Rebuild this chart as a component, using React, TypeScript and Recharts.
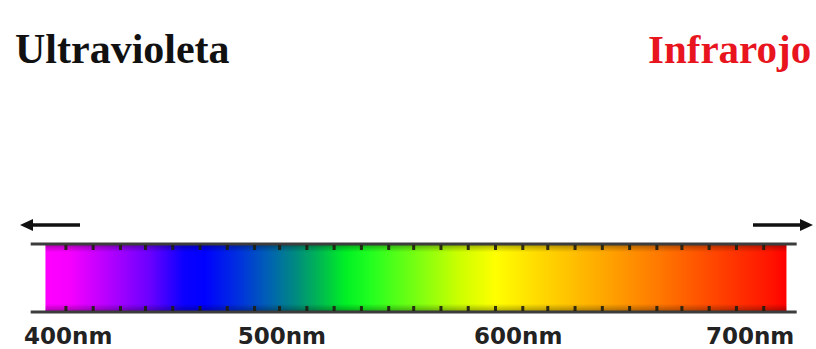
import { ComposedChart, XAxis, YAxis, ReferenceArea, ReferenceLine, Scatter, Customized } from "recharts";

// wavelength stops of the spectrum band (nm -> colour)
const stopNm = [390, 401, 418, 436, 451, 460, 476, 489, 500, 511, 522, 533, 555, 572, 588, 608, 634, 660, 687, 709, 716];
const stopColors = [
  "#ff00ff", "#f500ff", "#b400ff", "#6a00ff", "#0a00ff", "#0000ff", "#0034dc", "#0064b0", "#008a80", "#00ba50",
  "#00f025", "#22ff20", "#80ff10", "#ccff00", "#ffff00", "#ffd800", "#ffaa00", "#ff7800", "#ff4000", "#ff1400", "#ff0000",
];

// minor tick marks along the band (nm)
const minorTicks = [399, 411, 423, 434, 446, 458, 470, 482, 493, 505, 517, 529, 541, 552, 564, 576, 588, 600, 611, 623, 635, 647, 659, 670, 682, 694, 706];

// axis labels
const labelNm = [400, 494, 598, 700];
const labelText = ["400nm", "500nm", "600nm", "700nm"];

const bandStart = 390;
const bandEnd = 716;

const tickMarks = [
  ...minorTicks.map((x) => ({ x, y: 1, side: "top" })),
  ...minorTicks.map((x) => ({ x, y: 0, side: "bottom" })),
];

function TickMark(props: any) {
  const { cx, cy, payload } = props;
  const y = payload.side === "top" ? cy + 1 : cy - 6;
  return <rect x={cx - 1.5} y={y} width={3} height={5} fill="#1e1e10" opacity={0.9} />;
}

function AxisTick(props: any) {
  const { x, y, payload } = props;
  const i = labelNm.indexOf(payload.value);
  return (
    <text x={x} y={y + 30} textAnchor="middle" fill="#222" fontFamily="'DejaVu Sans', Verdana, sans-serif" fontWeight="bold" fontSize={23}>
      {labelText[i]}
    </text>
  );
}

function Decorations() {
  return (
    <g>
      <text x={15} y={63} fontFamily="'Liberation Serif', 'Times New Roman', serif" fontWeight="bold" fontSize={42} fill="#111">
        Ultravioleta
      </text>
      <text x={648} y={63} fontFamily="'Liberation Serif', 'Times New Roman', serif" fontWeight="bold" fontSize={41} fill="#e8141e">
        Infrarojo
      </text>
      {/* left arrow */}
      <line x1={30} y1={225} x2={80} y2={225} stroke="#111" strokeWidth={3.5} />
      <path d="M20,225 L33,219 L33,231 Z" fill="#111" />
      {/* right arrow */}
      <line x1={753} y1={225} x2={803} y2={225} stroke="#111" strokeWidth={3.5} />
      <path d="M813,225 L800,219 L800,231 Z" fill="#111" />
    </g>
  );
}

export default function App() {
  const span = bandEnd - bandStart;
  return (
    <div style={{ position: "absolute", left: 0, top: 0, background: "#fff" }}>
      <ComposedChart width={816} height={349} margin={{ top: 244, right: 0, bottom: 7, left: 0 }}>
        <defs>
          <linearGradient id="spectrum" x1="0" y1="0" x2="1" y2="0">
            {stopNm.map((nm, i) => (
              <stop key={i} offset={`${((nm - bandStart) / span) * 100}%`} stopColor={stopColors[i]} />
            ))}
          </linearGradient>
          <linearGradient id="shade" x1="0" y1="0" x2="0" y2="1">
            <stop offset="0%" stopColor="#000" stopOpacity={0.35} />
            <stop offset="12%" stopColor="#000" stopOpacity={0} />
            <stop offset="88%" stopColor="#000" stopOpacity={0} />
            <stop offset="100%" stopColor="#000" stopOpacity={0.35} />
          </linearGradient>
        </defs>
        <XAxis
          dataKey="x"
          type="number"
          domain={[370, 729]}
          allowDataOverflow
          ticks={labelNm}
          tick={<AxisTick />}
          axisLine={false}
          tickLine={false}
          tickSize={0}
          height={30}
        />
        <YAxis type="number" domain={[0, 1]} hide />
        <ReferenceArea x1={bandStart} x2={bandEnd} y1={0} y2={1} fill="url(#spectrum)" fillOpacity={1} stroke="none" />
        <ReferenceArea x1={bandStart} x2={bandEnd} y1={0} y2={1} fill="url(#shade)" fillOpacity={1} stroke="none" />
        <ReferenceLine segment={[{ x: 383.5, y: 1 }, { x: 720.5, y: 1 }]} stroke="#3c3c3c" strokeWidth={3} ifOverflow="visible" />
        <ReferenceLine segment={[{ x: 383.5, y: 0 }, { x: 720.5, y: 0 }]} stroke="#3c3c3c" strokeWidth={3} ifOverflow="visible" />
        <Scatter data={tickMarks} dataKey="y" shape={<TickMark />} isAnimationActive={false} />
        <Customized component={<Decorations />} />
      </ComposedChart>
    </div>
  );
}
